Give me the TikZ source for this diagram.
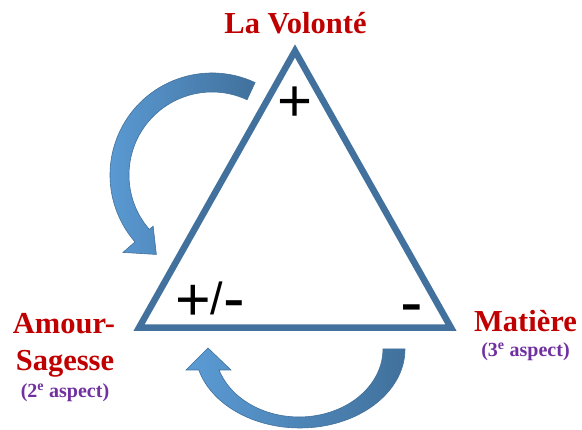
\documentclass[tikz,border=0pt]{standalone}
\usepackage{fontspec}
\setmainfont{Liberation Serif}
\newfontfamily\signfont{Liberation Sans}
\usetikzlibrary{calc}
\definecolor{tri}{HTML}{41719C}
\definecolor{arrlight}{HTML}{5B9BD5}
\definecolor{arrdark}{HTML}{41719C}
\definecolor{lblred}{HTML}{C00000}
\definecolor{lblpurple}{HTML}{7030A0}
\newcommand{\sgn}[1]{\fontsize{#1}{#1}\selectfont\signfont}
\begin{document}
\begin{tikzpicture}[x=1pt,y=1pt,
 lbl/.style={font=\fontsize{30.5}{32}\selectfont\bfseries, text=lblred, inner sep=0pt, anchor=base},
 aspect/.style={font=\fontsize{20}{22}\selectfont\bfseries, text=lblpurple, inner sep=0pt, anchor=base},
 sign/.style={inner sep=0pt, anchor=base, text=black},
 tribox/.style={draw=tri, line width=6.5pt, miter limit=10, line join=miter},
 bigarrow/.style={left color=arrlight, right color=arrdark, draw=arrdark, line width=0.6pt}]
\useasboundingbox (0,0) rectangle (582,430);

% triangle
\coordinate (A) at (295,379);
\coordinate (B) at (139,102.3);
\coordinate (C) at (451,102.3);
\draw[tribox] (A) -- (B) -- (C) -- cycle;

% top-left curved arrow
\begin{scope}[shift={(212,255)}]
\path[bigarrow] (65:102) arc[start angle=65, end angle=221, radius=102]
  -- (221:118) -- (235:97) -- (221:78) -- (221:83)
  arc[start angle=221, end angle=65, radius=83] -- cycle;
\end{scope}

% bottom curved arrow
\path[bigarrow] (405,81) arc[start angle=0, end angle=-164.6, x radius=105, y radius=79]
  -- (186,60) -- (208,82) -- (231,60) -- (219.1,60)
  arc[start angle=198, end angle=360, x radius=84, y radius=68] -- cycle;

% labels
\node[lbl] (vol) at (295.5,396) {La Volonté};
\node[lbl] (amour) at (64,96) {Amour-};
\node[lbl] (sag) at (65,59) {Sagesse};
\node[aspect] (asp2) at (65,32) {(2\textsuperscript{e} aspect)};
\node[lbl] (mat) at (525.5,98) {Matière};
\node[aspect] (asp3) at (525.5,73) {(3\textsuperscript{e} aspect)};

% signs
\node[sign] (plus) at (295.5,308.8) {\sgn{60}+};
\node[sign, anchor=base west] (pm) at (175,109) {{\sgn{61}+}\raisebox{6pt}{\sgn{45}/}{\sgn{65}-}};
\node[sign] (minus) at (412,104.6) {\sgn{68}-};
\end{tikzpicture}
\end{document}
